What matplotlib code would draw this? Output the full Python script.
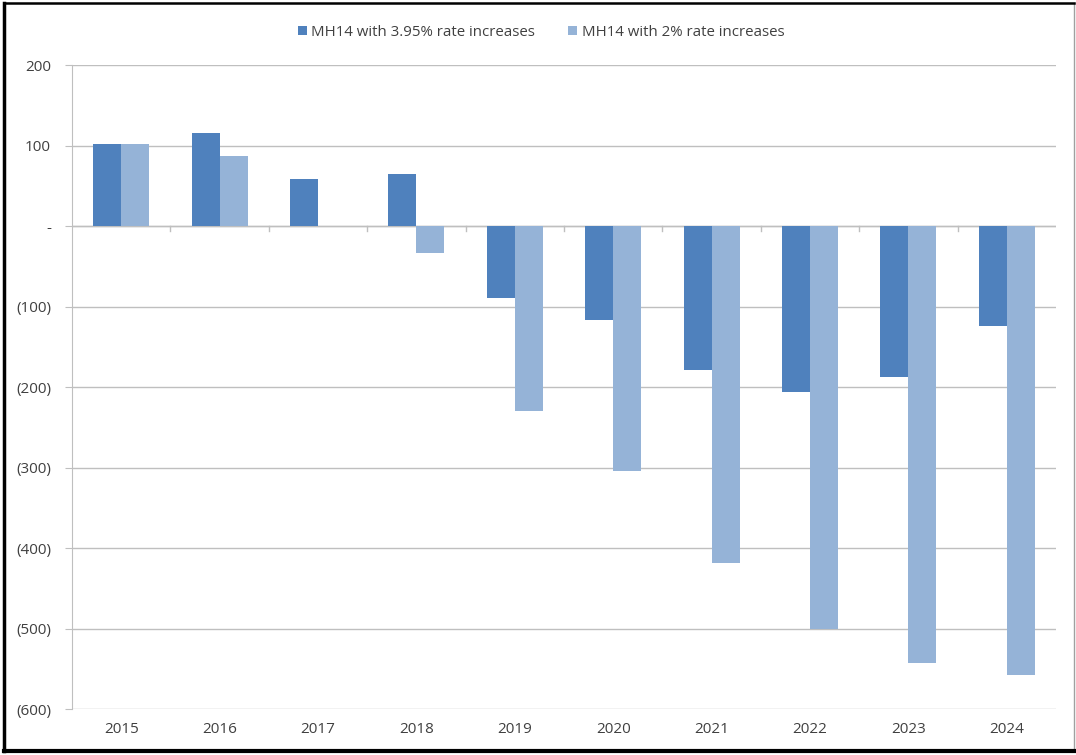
import matplotlib
matplotlib.use("Agg")
import matplotlib.pyplot as plt
from matplotlib.lines import Line2D
import numpy as np

plt.rcParams['font.family'] = ['Open Sans', 'DejaVu Sans']

years = ['2015', '2016', '2017', '2018', '2019', '2020', '2021', '2022', '2023', '2024']
series_395 = [102, 115, 58, 64, -89, -117, -179, -206, -188, -124]
series_2 = [102, 87, 0, -33, -230, -304, -419, -501, -543, -558]
label_395 = 'MH14 with 3.95% rate increases'
label_2 = 'MH14 with 2% rate increases'
yticks = [200, 100, 0, -100, -200, -300, -400, -500, -600]
ytick_labels = ['200', '100', '-', '(100)', '(200)', '(300)', '(400)', '(500)', '(600)']

dark = '#4F81BD'
light = '#95B3D7'
grid_c = '#BFBFBF'
text_c = '#404040'

fig = plt.figure(figsize=(10.76, 7.55), dpi=100)
ax = fig.add_axes([0.0669, 0.0609, 0.9145, 0.853])

x = np.arange(len(years))
w = 0.285
ax.bar(x - w / 2, series_395, width=w, color=dark, label=label_395, zorder=3)
ax.bar(x + w / 2, series_2, width=w, color=light, label=label_2, zorder=3)

ax.set_xlim(-0.5, len(years) - 0.5)
ax.set_ylim(-600, 200)
ax.set_yticks(yticks)
ax.set_yticklabels(ytick_labels, fontsize=11, color=text_c)
ax.set_xticks(x)
ax.set_xticklabels(years, fontsize=11, color=text_c)
ax.tick_params(axis='x', length=0, pad=9)
ax.tick_params(axis='y', length=5, color=grid_c, pad=10)
ax.grid(axis='y', color=grid_c, linewidth=1, zorder=0)
for s in ['top', 'right', 'bottom']:
    ax.spines[s].set_visible(False)
ax.spines['left'].set_color(grid_c)
ax.axhline(0, color=grid_c, linewidth=1, zorder=2)
# category boundary ticks on zero line
for b in np.arange(0.5, len(years) - 0.5, 1.0):
    ax.plot([b, b], [0, -6], color=grid_c, linewidth=1, zorder=2, clip_on=False)

leg = fig.legend(loc='upper center', bbox_to_anchor=(0.503, 0.985), ncol=2,
                 frameon=False, fontsize=10.8, handlelength=0.6, handleheight=0.6,
                 handletextpad=0.3, columnspacing=2.2)
for t in leg.get_texts():
    t.set_color(text_c)

# figure border
fig.add_artist(Line2D([0.9985, 0.9985], [0.005, 0.996], transform=fig.transFigure,
                      color='#A0A0A0', linewidth=1))
fig.add_artist(Line2D([0.004, 0.9985], [0.996, 0.996], transform=fig.transFigure,
                      color='black', linewidth=1.8))
fig.add_artist(Line2D([0.004, 0.004], [0.005, 0.996], transform=fig.transFigure,
                      color='black', linewidth=2.5))
fig.add_artist(Line2D([0.004, 0.9985], [0.005, 0.005], transform=fig.transFigure,
                      color='black', linewidth=3))

fig.savefig('out.png', dpi=100)
